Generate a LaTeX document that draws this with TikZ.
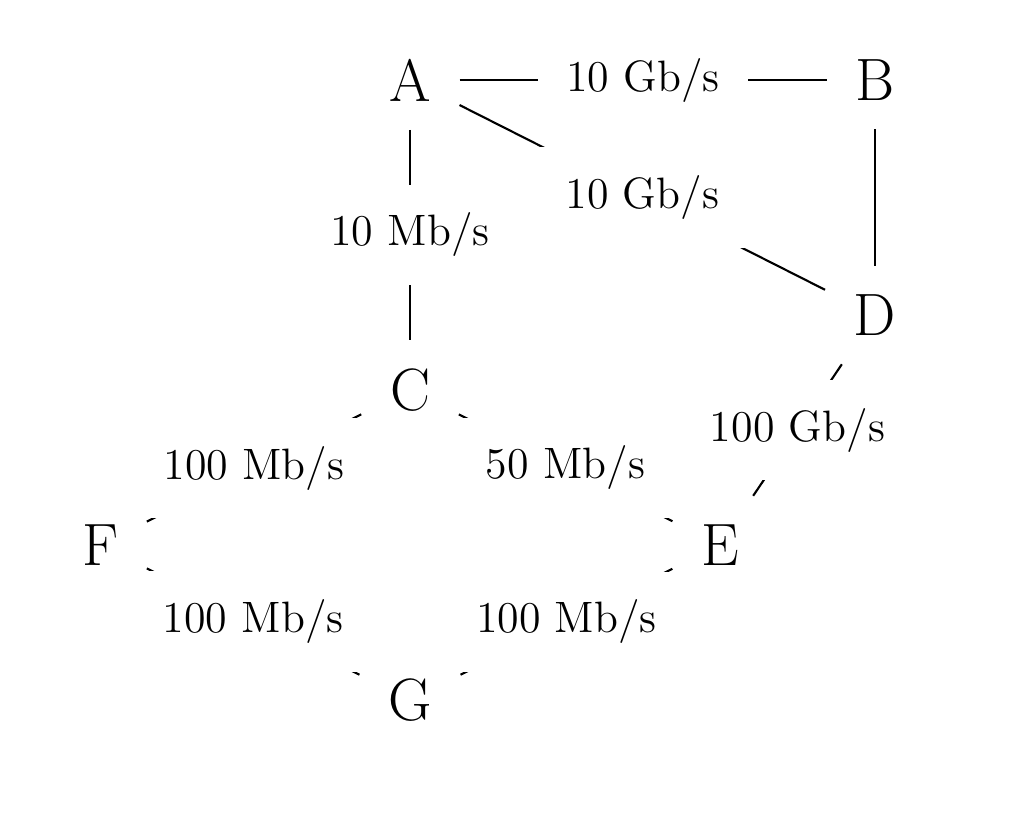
\documentclass[tikz,border=0pt]{standalone}
\begin{document}
\begin{tikzpicture}[x=0.01cm,y=-0.01cm,
  v/.style={font=\fontsize{17}{20}\selectfont, inner sep=8pt},
  lab/.style={font=\fontsize{12.5}{15}\selectfont, fill=white, inner sep=8pt},
  every edge/.style={draw, line width=0.6pt}]
\useasboundingbox (0,0) rectangle (1013,829);
\node[v] (A) at (410,80) {A};
\node[v] (B) at (875,80) {B};
\node[v] (D) at (875,315) {D};
\node[v] (C) at (410,390) {C};
\node[v] (E) at (720,545) {E};
\node[v] (F) at (100,545) {F};
\node[v] (G) at (410,700) {G};
\draw (A) edge node[lab] {10 Gb/s} (B)
      (A) edge node[lab] {10 Gb/s} (D)
      (B) edge (D)
      (A) edge node[lab] {10 Mb/s} (C)
      (C) edge node[lab] {100 Mb/s} (F)
      (C) edge node[lab] {50 Mb/s} (E)
      (D) edge node[lab] {100 Gb/s} (E)
      (F) edge node[lab] {100 Mb/s} (G)
      (E) edge node[lab] {100 Mb/s} (G);
\end{tikzpicture}
\end{document}
